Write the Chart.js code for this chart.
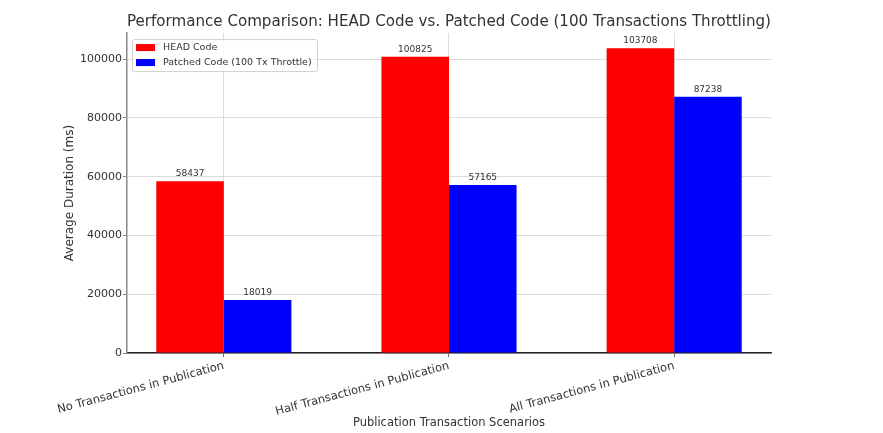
<!DOCTYPE html>
<html>
<head>
<meta charset="utf-8">
<script src="https://cdn.jsdelivr.net/npm/chart.js@4.4.1/dist/chart.umd.min.js"></script>
<style>
  html, body { margin: 0; padding: 0; background: #fff; }
  #wrap { width: 883px; height: 433px; }
</style>
</head>
<body>
<div id="wrap"><canvas id="myChart"></canvas></div>
<script>
// data
const scenarios = ["No Transactions in Publication", "Half Transactions in Publication", "All Transactions in Publication"];
const headCode = [58437, 100825, 103708];
const patchedCode = [18019, 57165, 87238];
const seriesNames = ["HEAD Code", "Patched Code (100 Tx Throttle)"];
const seriesColors = ["#ff0000", "#0000ff"];
const yTicks = [0, 20000, 40000, 60000, 80000, 100000];

const FONT = "'DejaVu Sans', sans-serif";
const TEXT = "#333333";

// value above each bar
const valueLabels = {
  id: "valueLabels",
  afterDatasetsDraw(chart) {
    const ctx = chart.ctx;
    ctx.save();
    ctx.font = "9px " + FONT;
    ctx.fillStyle = TEXT;
    ctx.textAlign = "center";
    ctx.textBaseline = "alphabetic";
    chart.data.datasets.forEach((ds, i) => {
      chart.getDatasetMeta(i).data.forEach((bar, j) => {
        ctx.fillText(String(ds.data[j].y), bar.x, bar.y - 5);
      });
    });
    ctx.restore();
  }
};

// legend box inside the plot, upper left
const innerLegend = {
  id: "innerLegend",
  afterDraw(chart) {
    const ctx = chart.ctx;
    const a = chart.chartArea;
    const x0 = a.left + 5, y0 = a.top + 6;
    ctx.save();
    ctx.fillStyle = "rgba(255,255,255,0.8)";
    ctx.strokeStyle = "#d0d0d0";
    ctx.lineWidth = 1;
    ctx.beginPath();
    ctx.roundRect(x0 + 0.5, y0 + 0.5, 185, 32, 2);
    ctx.fill();
    ctx.stroke();
    ctx.font = "9.5px " + FONT;
    ctx.textBaseline = "middle";
    ctx.textAlign = "left";
    seriesNames.forEach((name, i) => {
      const cy = y0 + 8.5 + i * 15;
      ctx.fillStyle = seriesColors[i];
      ctx.fillRect(x0 + 4, cy - 3.5, 19, 7);
      ctx.fillStyle = TEXT;
      ctx.fillText(name, x0 + 31, cy);
    });
    ctx.restore();
  }
};

const toPoints = arr => arr.map((v, i) => ({ x: i, y: v }));

new Chart(document.getElementById("myChart"), {
  type: "bar",
  data: {
    datasets: [
      {
        label: seriesNames[0],
        data: toPoints(headCode),
        backgroundColor: seriesColors[0],
        categoryPercentage: 0.6,
        barPercentage: 1.0,
      },
      {
        label: seriesNames[1],
        data: toPoints(patchedCode),
        backgroundColor: seriesColors[1],
        categoryPercentage: 0.6,
        barPercentage: 1.0,
      },
    ],
  },
  options: {
    responsive: true,
    maintainAspectRatio: false,
    animation: false,
    layout: { padding: { left: 0, right: 112, top: 0, bottom: 0 } },
    plugins: {
      legend: { display: false },
      tooltip: { enabled: false },
      title: {
        display: true,
        fullSize: false,
        text: "Performance Comparison: HEAD Code vs. Patched Code (100 Transactions Throttling)",
        color: TEXT,
        font: { family: FONT, size: 16.3, weight: "normal" },
        padding: { top: 12, bottom: 1.5 },
      },
    },
    scales: {
      x: {
        type: "linear",
        offset: false,
        min: -0.43,
        max: 2.43,
        afterFit: s => { s.height = 80; },
        afterBuildTicks: s => { s.ticks = scenarios.map((_, i) => ({ value: i })); },
        ticks: {
          autoSkip: false,
          minRotation: 15,
          maxRotation: 15,
          padding: 2,
          color: TEXT,
          font: { family: FONT, size: 11.5 },
          callback: v => scenarios[v] ?? "",
        },
        grid: {
          offset: false,
          color: "#d3d3d3",
          lineWidth: 0.8,
          borderDash: [2.5, 2.5],
          tickColor: "#444",
          tickLength: 4,
          tickBorderDash: [],
        },
        border: { color: "#222", width: 1.5 },
        title: {
          display: true,
          text: "Publication Transaction Scenarios",
          color: TEXT,
          font: { family: FONT, size: 11.5 },
          padding: { top: 0, bottom: 3 },
        },
      },
      y: {
        min: 0,
        max: 108885,
        afterFit: s => { s.width = 127; },
        afterBuildTicks: s => { s.ticks = yTicks.map(v => ({ value: v })); },
        ticks: {
          padding: 1,
          color: TEXT,
          font: { family: FONT, size: 11 },
          callback: v => String(v),
        },
        grid: {
          color: "#d3d3d3",
          lineWidth: 0.8,
          borderDash: [2.5, 2.5],
          tickColor: "#666",
          tickLength: 4,
          tickBorderDash: [],
        },
        border: { color: "#888", width: 1.5 },
        title: {
          display: true,
          text: "Average Duration (ms)",
          color: TEXT,
          font: { family: FONT, size: 12 },
          padding: { top: 63, bottom: 0 },
        },
      },
    },
  },
  plugins: [valueLabels, innerLegend],
});
</script>
</body>
</html>
